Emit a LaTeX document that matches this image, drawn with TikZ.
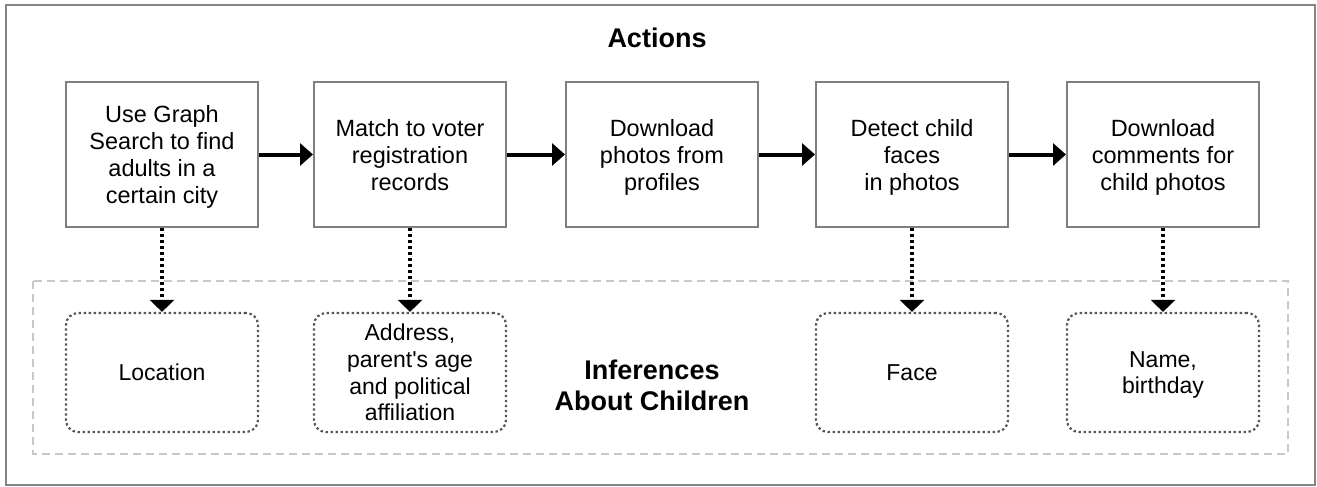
\documentclass[tikz,border=0pt]{standalone}
\usepackage{fontspec}
\setmainfont{Liberation Sans}[Ligatures=TeXOff]
\usetikzlibrary{arrows.meta}
\definecolor{boxgray}{HTML}{7F7F7F}
\definecolor{framegray}{HTML}{858585}
\definecolor{dotgray}{HTML}{555555}
\definecolor{dashgray}{HTML}{C8C8C8}
\begin{document}
\begin{tikzpicture}[x=1pt,y=-1pt,
  action/.style={draw=boxgray, line width=2pt, minimum width=192pt, minimum height=145pt,
    inner sep=0pt, align=center, text depth=0pt, font=\fontsize{23.5}{27}\selectfont},
  infer/.style={draw=dotgray, line width=2.2pt, dash pattern=on 2.4pt off 2.6pt,
    rounded corners=12pt, minimum width=192pt, minimum height=119pt,
    inner sep=0pt, align=center, text depth=0pt, font=\fontsize{23}{26.7}\selectfont},
  flow/.style={line width=4pt, -{Triangle[length=13pt,width=22pt]}},
  infarrow/.style={line width=4pt, dash pattern=on 3pt off 3pt,
    -{Triangle[length=12pt,width=24pt]}},
  heading/.style={font=\fontsize{27}{31}\selectfont\bfseries, align=center, inner sep=0pt}]
\useasboundingbox (0,0) rectangle (1317,487);
% outer frame
\draw[framegray, line width=2pt] (6,5) rectangle (1315,485);
% dashed inference region
\draw[dashgray, line width=2pt, dash pattern=on 8pt off 5pt] (33,281) rectangle (1288,454);

\node[heading, anchor=base] (title) at (657,48) {Actions};

\node[action] (a1) at (162,154.5) {Use Graph\\Search to find\\adults in a\\certain city};
\node[action] (a2) at (410,154.5) {Match to voter\\registration\\records};
\node[action] (a3) at (662,154.5) {Download\\photos from\\profiles};
\node[action] (a4) at (912,154.5) {Detect child\\faces\\in photos};
\node[action] (a5) at (1163,154.5) {Download\\comments for\\child photos};

\node[infer] (i1) at (162,372.5) {Location};
\node[infer] (i2) at (410,372.5) {Address,\\parent's age\\and political\\affiliation};
\node[infer] (i4) at (912,372.5) {Face};
\node[infer] (i5) at (1163,372.5) {Name,\\birthday};

\node[heading] (inf) at (652,385) {Inferences\\About Children};

\draw[flow] (a1) -- (a2);
\draw[flow] (a2) -- (a3);
\draw[flow] (a3) -- (a4);
\draw[flow] (a4) -- (a5);

\draw[infarrow] (a1.south) -- (i1.north);
\draw[infarrow] (a2.south) -- (i2.north);
\draw[infarrow] (a4.south) -- (i4.north);
\draw[infarrow] (a5.south) -- (i5.north);
\end{tikzpicture}
\end{document}
